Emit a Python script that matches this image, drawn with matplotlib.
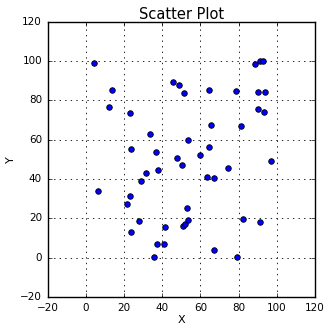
import matplotlib
matplotlib.use("Agg")
import matplotlib.pyplot as plt

x_vals = [4.1, 13.5, 12.0, 23.0, 45.6, 48.8, 51.2, 64.7, 78.6, 88.6,
          91.4, 92.8, 90.2, 94.0, 90.0, 93.2, 65.8, 81.4, 33.7, 53.5,
          23.5, 64.7, 36.7, 47.6, 59.7, 50.5, 97.1, 74.6, 31.7, 37.9,
          29.0, 63.4, 67.3, 6.6, 23.0, 21.4, 53.1, 82.1, 27.7, 23.9,
          41.6, 50.8, 51.8, 53.7, 37.5, 41.1, 35.8, 67.3, 79.1, 91.1]
y_vals = [98.9, 85.3, 76.7, 73.4, 89.5, 87.7, 83.8, 85.3, 84.6, 98.7,
          99.9, 99.9, 84.4, 84.4, 75.7, 74.1, 67.6, 67.1, 63.1, 59.8,
          55.3, 56.5, 54.0, 50.6, 52.1, 47.0, 49.2, 45.6, 42.9, 44.4,
          39.2, 41.0, 40.4, 34.0, 31.2, 27.1, 25.5, 19.9, 18.8, 13.1,
          15.6, 16.3, 17.0, 19.2, 7.0, 6.9, 0.6, 3.8, 0.6, 18.2]
ticks = [-20, 0, 20, 40, 60, 80, 100, 120]

plt.style.use('classic')
fig = plt.figure(figsize=(3.26, 3.25), dpi=100, facecolor='white')
ax = fig.add_axes([0.146, 0.086, 0.820, 0.847])
ax.scatter(x_vals, y_vals, s=16, c='b', edgecolors='k', linewidths=0.6, zorder=3)
ax.set_xlim(-20, 120)
ax.set_ylim(-20, 120)
ax.set_xticks(ticks)
ax.set_yticks(ticks)
ax.grid(True, linestyle=':', color='k', linewidth=0.6)
ax.tick_params(labelsize=7.5, length=3)
ax.set_title('Scatter Plot', fontsize=10.5, pad=2)
ax.set_xlabel('X', fontsize=8, labelpad=2)
ax.set_ylabel('Y', fontsize=8, labelpad=3)
fig.savefig('out.png', dpi=100, facecolor='white')
